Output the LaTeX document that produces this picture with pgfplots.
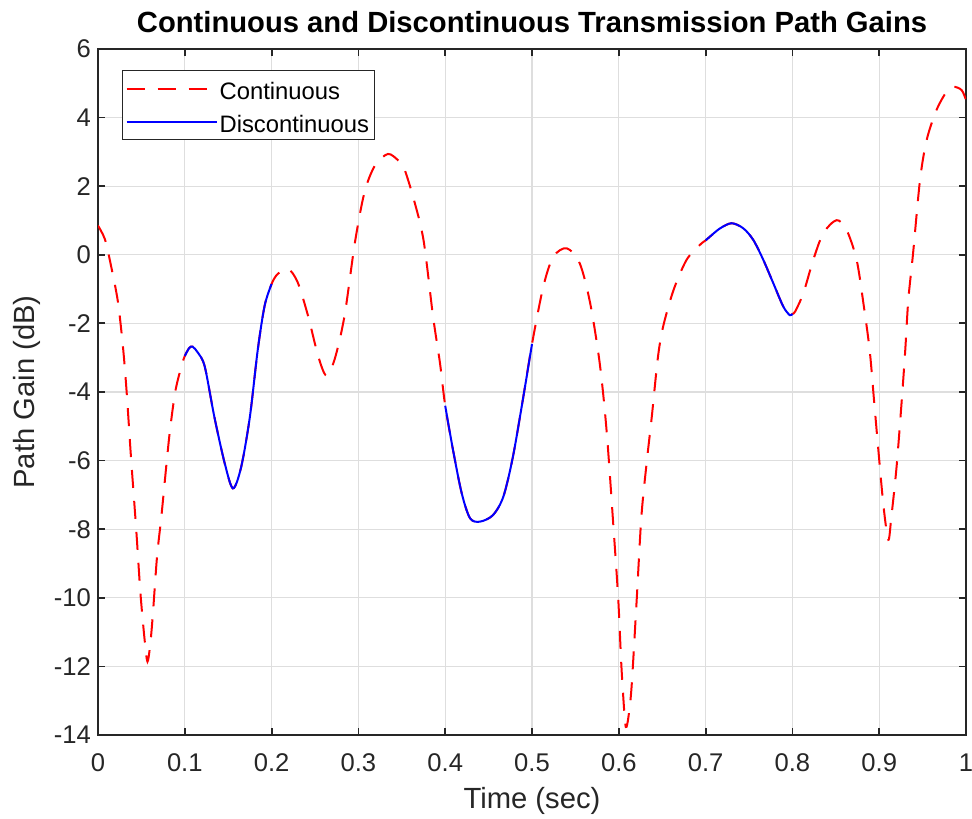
\documentclass[border=0pt]{standalone}
\usepackage{pgfplots}
\pgfplotsset{compat=1.18}
\usepackage{pgfplotstable}
\usepackage{fontspec}
\setmainfont{Liberation Sans}

\definecolor{axgray}{RGB}{38,38,38}
\definecolor{gridgray}{RGB}{222,222,222}

\pgfplotstableread{
t v
0.000 0.85
0.008 0.45
0.015 -0.32
0.023 -1.38
0.029 -2.75
0.033 -4.0
0.038 -5.9
0.044 -8.0
0.049 -9.9
0.054 -11.3
0.057 -11.86
0.060 -11.4
0.063 -10.55
0.068 -8.8
0.073 -7.63
0.079 -6.07
0.083 -5.1
0.089 -3.99
0.096 -3.26
0.100 -2.95
0.105 -2.72
0.109 -2.68
0.115 -2.85
0.123 -3.26
0.134 -4.72
0.146 -6.08
0.1555 -6.81
0.165 -6.18
0.175 -4.72
0.184 -2.78
0.192 -1.48
0.200 -0.85
0.207 -0.56
0.219 -0.41
0.230 -0.80
0.242 -1.78
0.2535 -2.94
0.263 -3.52
0.2727 -3.04
0.284 -1.78
0.296 0.36
0.307 1.82
0.319 2.60
0.334 2.94
0.346 2.75
0.352 2.57
0.363 1.69
0.375 0.43
0.386 -1.80
0.394 -3.16
0.400 -4.4
0.409 -5.69
0.419 -6.95
0.4286 -7.68
0.440 -7.78
0.455 -7.59
0.467 -7.05
0.478 -5.89
0.490 -4.14
0.500 -2.6
0.513 -0.93
0.5245 -0.06
0.540 0.19
0.555 -0.25
0.567 -1.41
0.578 -3.16
0.586 -5.15
0.594 -8.0
0.5994 -10.06
0.603 -12.0
0.607 -13.56
0.609 -13.76
0.612 -13.3
0.615 -12.49
0.6206 -10.06
0.626 -7.64
0.632 -6.08
0.638 -4.72
0.645 -3.0
0.651 -2.1
0.663 -1.03
0.678 -0.15
0.6935 0.29
0.700 0.42
0.705 0.53
0.7166 0.77
0.730 0.92
0.7435 0.77
0.755 0.43
0.7665 -0.15
0.778 -0.83
0.7895 -1.51
0.797 -1.76
0.800 -1.72
0.803 -1.66
0.8126 -1.12
0.824 -0.15
0.8356 0.63
0.851 1.01
0.8625 0.72
0.874 -0.15
0.882 -1.45
0.889 -2.78
0.894 -4.23
0.899 -5.69
0.905 -7.34
0.9105 -8.31
0.914 -7.64
0.920 -6.18
0.926 -4.23
0.930 -2.78
0.9335 -1.32
0.939 0.04
0.947 2.18
0.9547 3.35
0.966 4.22
0.9777 4.76
0.9854 4.90
0.995 4.80
1.000 4.51
}\gaindata

\begin{document}
\begin{tikzpicture}
\begin{axis}[
    at={(0pt,0pt)}, anchor=south west,
    scale only axis,
    width=434pt, height=343pt,
    xmin=0, xmax=1, ymin=-14, ymax=6,
    xtick={0,0.1,...,1.0},
    xticklabels={0,0.1,0.2,0.3,0.4,0.5,0.6,0.7,0.8,0.9,1},
    ytick={-14,-12,...,6},
    yticklabels={-14,-12,-10,-8,-6,-4,-2,0,2,4,6},
    tick align=inside,
    major tick length=3.5pt,
    axis line style={axgray, line width=0.9pt},
    tick style={axgray, line width=0.9pt},
    grid=major,
    grid style={gridgray, line width=0.6pt},
    tick label style={font=\fontsize{12.8}{15}\selectfont, text=axgray},
    xticklabel style={yshift=-6pt},
    label style={font=\fontsize{14.6}{17}\selectfont, text=axgray},
    xlabel={Time (sec)},
    ylabel={Path Gain (dB)},
    xlabel style={at={(axis description cs:0.5,0)}, anchor=base, yshift=-36.5pt},
    ylabel style={at={(axis description cs:0,0.5)}, anchor=base, yshift=31.5pt},
    every axis title shift=0pt,
    title={Continuous and Discontinuous Transmission Path Gains},
    title style={at={(axis description cs:0.5,1)}, anchor=base, yshift=8pt,
                 font=\fontsize{14.6}{17}\selectfont\bfseries},
    legend style={at={(axis description cs:0,1)}, anchor=north west,
                  xshift=12pt, yshift=-10.5pt,
                  font=\fontsize{11.9}{14}\selectfont,
                  draw=axgray, line width=0.6pt,
                  inner xsep=1.5pt, inner ysep=0.75pt,
                  row sep=0pt,
                  nodes={inner xsep=1pt, inner ysep=0pt, text height=13.75pt, text depth=2.75pt}},
    legend cell align=left,
    legend image code/.code={\draw[#1] (0pt,0pt) -- (45pt,0pt);},
]
\addplot[red, line width=1pt, dash pattern=on 9pt off 6.5pt, smooth, tension=0.5] table[x=t, y=v] {\gaindata};
\addlegendentry{Continuous}
\addplot[blue, line width=1pt, smooth, tension=0.5, restrict x to domain=0.0999:0.2001] table[x=t, y=v] {\gaindata};
\addlegendentry{Discontinuous}
\addplot[blue, line width=1pt, smooth, tension=0.5, forget plot, restrict x to domain=0.3999:0.5001] table[x=t, y=v] {\gaindata};
\addplot[blue, line width=1pt, smooth, tension=0.5, forget plot, restrict x to domain=0.6999:0.8001] table[x=t, y=v] {\gaindata};
\end{axis}
\pgfresetboundingbox
\path[use as bounding box] (-49pt,-41.5pt) rectangle (437pt,367.5pt);
\end{tikzpicture}
\end{document}
